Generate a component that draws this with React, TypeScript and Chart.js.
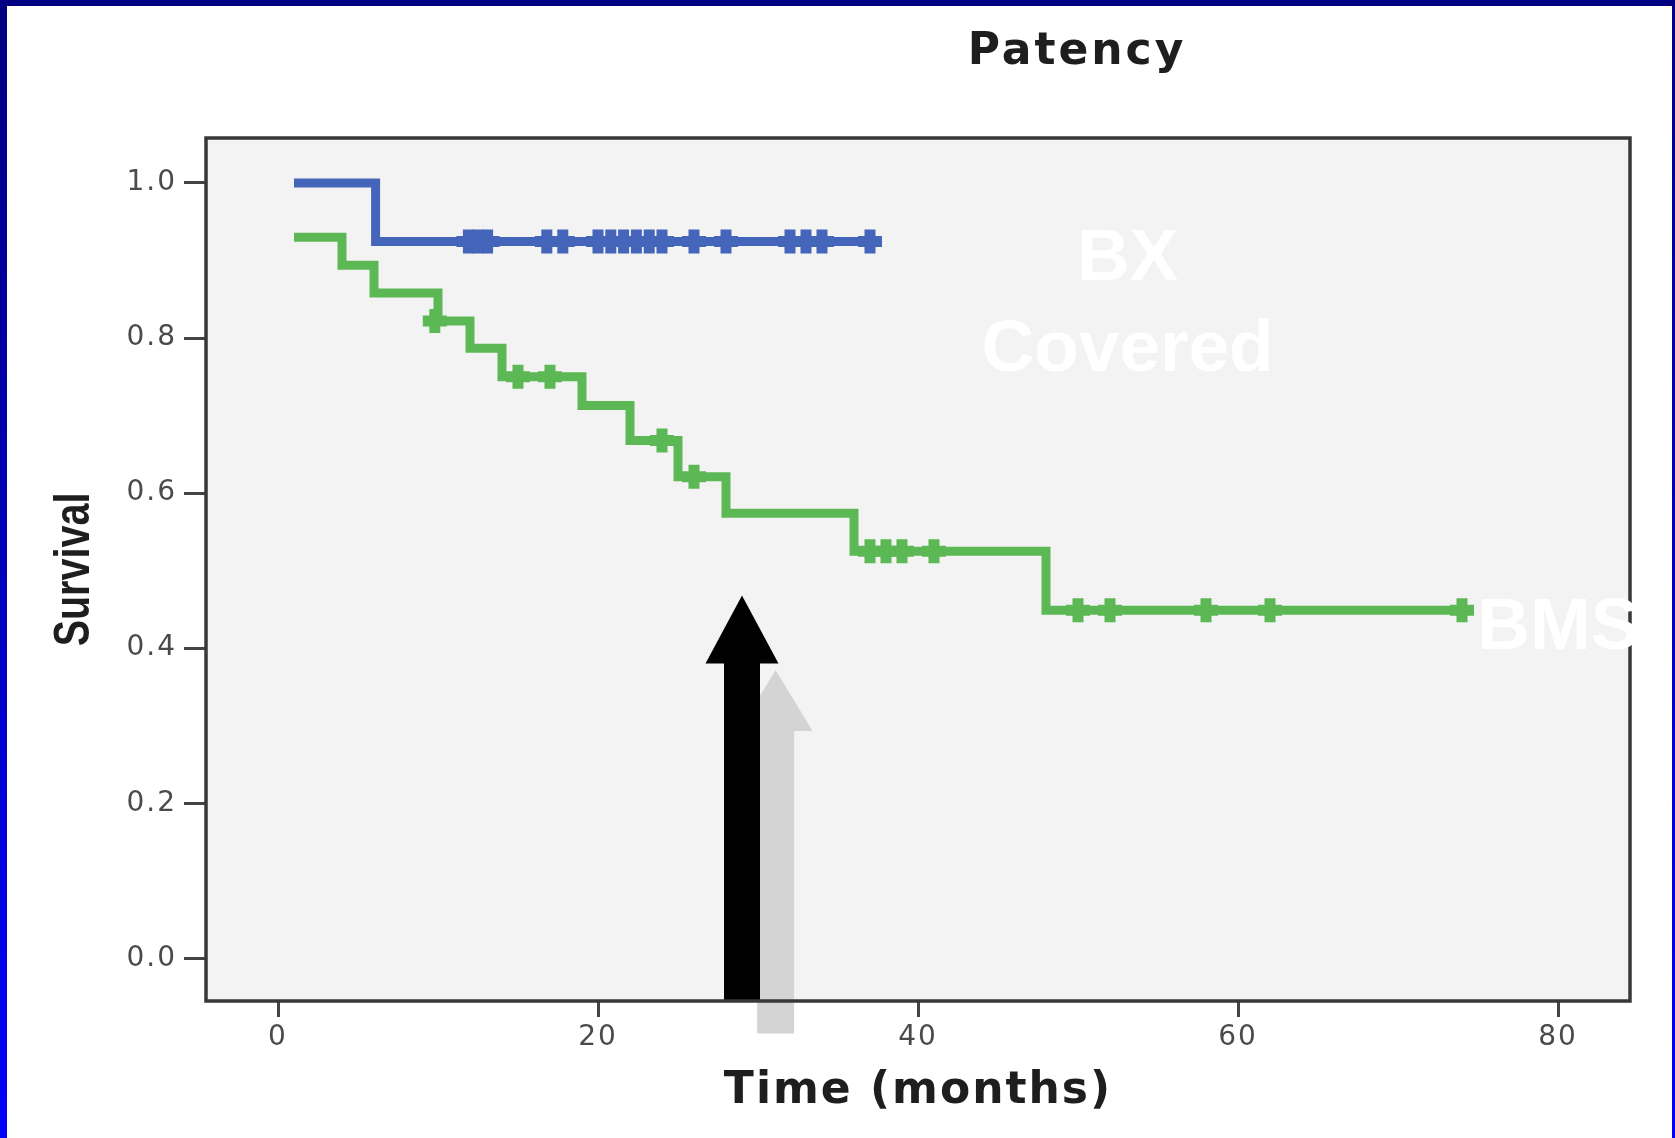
import React, { useEffect, useRef } from 'react';
import { Chart, registerables } from 'chart.js';

Chart.register(...registerables);

// ---- data ----
const xTicks = [0, 20, 40, 60, 80];
const yTicks = [0, 0.2, 0.4, 0.6, 0.8, 1.0];

const bxTimes = [1, 6.1, 37];
const bxSurvival = [1.0, 0.9245, 0.9245];
const bxCensorTimes = [11.9, 12.5, 13.1, 16.8, 17.8, 20, 20.8, 21.6, 22.4, 23.2, 24, 26, 28, 32, 33, 34, 37];
const bxCensorSurvival = [0.9245, 0.9245, 0.9245, 0.9245, 0.9245, 0.9245, 0.9245, 0.9245, 0.9245, 0.9245, 0.9245, 0.9245, 0.9245, 0.9245, 0.9245, 0.9245, 0.9245];

const bmsTimes = [1, 4, 6, 10, 12, 14, 19, 22, 25, 28, 36, 48, 74];
const bmsSurvival = [0.93, 0.894, 0.858, 0.822, 0.787, 0.75, 0.713, 0.668, 0.621, 0.574, 0.525, 0.449, 0.449];
const bmsCensorTimes = [9.8, 15, 17, 24, 26, 37, 38, 39, 41, 50, 52, 58, 62, 74];
const bmsCensorSurvival = [0.822, 0.75, 0.75, 0.668, 0.621, 0.525, 0.525, 0.525, 0.525, 0.449, 0.449, 0.449, 0.449, 0.449];

// annotations (data coordinates)
const arrowTimes = [31.1, 29];
const arrowTips = [0.372, 0.468];
const arrowBases = [-0.097, -0.055];
const arrowColors = ['#d4d4d4', '#000000'];

const labelTexts = ['BX', 'Covered', 'BMS'];
const labelTimes = [53.1, 53.1, 74.95];
const labelYs = [0.875, 0.758, 0.399];
const labelAligns: CanvasTextAlign[] = ['center', 'center', 'left'];

const chartTitle = 'Patency';
const yTitle = 'Survival';
const xTitle = 'Time (months)';

const BLUE = '#4565ba';
const GREEN = '#5cb854';

const pts = (xs: number[], ys: number[]) => xs.map((x, i) => ({ x, y: ys[i] }));

const decorPlugin = {
  id: 'decor',
  beforeDraw(chart: any) {
    const { ctx, chartArea: a } = chart;
    ctx.save();
    ctx.fillStyle = '#f3f3f3';
    ctx.fillRect(a.left, a.top, a.right - a.left, a.bottom - a.top);
    ctx.restore();
    ctx.letterSpacing = '2px';
  },
  afterDatasetsDraw(chart: any) {
    const { ctx, chartArea: a } = chart;
    const xs = chart.scales.x;
    const ys = chart.scales.y;
    ctx.save();
    // arrows
    const dims = [
      { shaft: 37, head: 74, headH: 61 },
      { shaft: 36, head: 73, headH: 68 },
    ];
    arrowTimes.forEach((t, i) => {
      const cx = xs.getPixelForValue(t);
      const tip = ys.getPixelForValue(arrowTips[i]);
      const base = ys.getPixelForValue(arrowBases[i]);
      const d = dims[i];
      ctx.fillStyle = arrowColors[i];
      ctx.beginPath();
      ctx.moveTo(cx - d.shaft / 2, base);
      ctx.lineTo(cx - d.shaft / 2, tip + d.headH);
      ctx.lineTo(cx - d.head / 2, tip + d.headH);
      ctx.lineTo(cx, tip);
      ctx.lineTo(cx + d.head / 2, tip + d.headH);
      ctx.lineTo(cx + d.shaft / 2, tip + d.headH);
      ctx.lineTo(cx + d.shaft / 2, base);
      ctx.closePath();
      ctx.fill();
    });
    // frame
    ctx.strokeStyle = '#383838';
    ctx.lineWidth = 3.5;
    ctx.strokeRect(a.left, a.top, a.right - a.left, a.bottom - a.top);
    // white labels
    ctx.letterSpacing = '0px';
    ctx.fillStyle = '#ffffff';
    ctx.font = "bold 73px 'Liberation Sans', Arial, sans-serif";
    ctx.textBaseline = 'alphabetic';
    labelTexts.forEach((txt, i) => {
      ctx.textAlign = labelAligns[i];
      ctx.fillText(txt, xs.getPixelForValue(labelTimes[i]), ys.getPixelForValue(labelYs[i]));
    });
    // chart title
    ctx.letterSpacing = '3px';
    ctx.fillStyle = '#1e1e1e';
    ctx.font = "bold 44px 'DejaVu Sans', sans-serif";
    ctx.textAlign = 'center';
    ctx.fillText(chartTitle, 1077, 64);
    // y axis title (condensed)
    ctx.letterSpacing = '0px';
    ctx.save();
    ctx.translate(89, (a.top + a.bottom) / 2);
    ctx.rotate(-Math.PI / 2);
    ctx.scale(0.79, 1);
    ctx.font = "bold 50px 'Liberation Sans', Arial, sans-serif";
    ctx.textAlign = 'center';
    ctx.textBaseline = 'alphabetic';
    ctx.fillText(yTitle, 0, 0);
    ctx.restore();
    ctx.restore();
  },
};

export default function App() {
  const ref = useRef<HTMLCanvasElement>(null);
  useEffect(() => {
    const chart = new Chart(ref.current as HTMLCanvasElement, {
      type: 'scatter',
      data: {
        datasets: [
          {
            label: 'BX Covered',
            data: pts(bxTimes, bxSurvival),
            showLine: true,
            stepped: 'before',
            borderColor: BLUE,
            borderWidth: 9,
            borderJoinStyle: 'miter',
            borderCapStyle: 'butt',
            pointRadius: 0,
          },
          {
            label: 'BX Covered censored',
            data: pts(bxCensorTimes, bxCensorSurvival),
            showLine: false,
            pointStyle: 'cross',
            pointRadius: 12,
            pointBorderWidth: 11,
            pointBorderColor: BLUE,
            pointBackgroundColor: BLUE,
          },
          {
            label: 'BMS',
            data: pts(bmsTimes, bmsSurvival),
            showLine: true,
            stepped: 'before',
            borderColor: GREEN,
            borderWidth: 9,
            borderJoinStyle: 'miter',
            borderCapStyle: 'butt',
            pointRadius: 0,
          },
          {
            label: 'BMS censored',
            data: pts(bmsCensorTimes, bmsCensorSurvival),
            showLine: false,
            pointStyle: 'cross',
            pointRadius: 12,
            pointBorderWidth: 11,
            pointBorderColor: GREEN,
            pointBackgroundColor: GREEN,
          },
        ],
      } as any,
      options: {
        responsive: false,
        animation: false,
        devicePixelRatio: 1,
        layout: { padding: { left: 40, top: 138, right: 45, bottom: 0 } },
        plugins: {
          legend: { display: false },
          tooltip: { enabled: false },
          title: { display: false },
        },
        scales: {
          x: {
            type: 'linear',
            min: -4.5,
            max: 84.5,
            afterBuildTicks: (s: any) => {
              s.ticks = xTicks.map((v) => ({ value: v }));
            },
            afterFit: (s: any) => {
              s.height = 137;
            },
            border: { display: false },
            grid: {
              drawOnChartArea: false,
              drawTicks: true,
              tickLength: 16,
              tickWidth: 3,
              tickColor: '#444444',
            },
            ticks: {
              font: { family: "'DejaVu Sans', sans-serif", size: 28 },
              color: '#4a4a4a',
              padding: 4,
              maxRotation: 0,
              callback: (v: any) => String(v),
            },
            title: {
              display: true,
              text: xTitle,
              font: { family: "'DejaVu Sans', sans-serif", size: 44, weight: 'bold' },
              color: '#1e1e1e',
              padding: { top: 0, bottom: 20 },
            },
          },
          y: {
            type: 'linear',
            min: -0.055,
            max: 1.058,
            afterBuildTicks: (s: any) => {
              s.ticks = yTicks.map((v) => ({ value: v }));
            },
            afterFit: (s: any) => {
              s.width = 166;
            },
            border: { display: false },
            grid: {
              drawOnChartArea: false,
              drawTicks: true,
              tickLength: 22,
              tickWidth: 3,
              tickColor: '#444444',
            },
            ticks: {
              font: { family: "'DejaVu Sans', sans-serif", size: 28 },
              color: '#4a4a4a',
              padding: 7,
              callback: (v: any) => Number(v).toFixed(1),
            },
            title: { display: false },
          },
        },
      } as any,
      plugins: [decorPlugin],
    });
    return () => chart.destroy();
  }, []);

  return (
    <div style={{ position: 'absolute', left: 0, top: 0, width: 1675, height: 1138, background: '#ffffff', overflow: 'hidden' }}>
      <canvas ref={ref} width={1675} height={1138} style={{ position: 'absolute', left: 0, top: 0, width: 1675, height: 1138 }} />
      <div style={{ position: 'absolute', left: 0, top: 0, width: 1675, height: 6, background: '#000080' }} />
      <div style={{ position: 'absolute', left: 0, top: 0, width: 7, height: 1138, background: 'linear-gradient(#000080, #0000a8 35%, #0000ff)' }} />
      <div style={{ position: 'absolute', right: 0, top: 0, width: 3, height: 1138, background: 'linear-gradient(#000080, #0000a8 35%, #0000ff)' }} />
    </div>
  );
}
